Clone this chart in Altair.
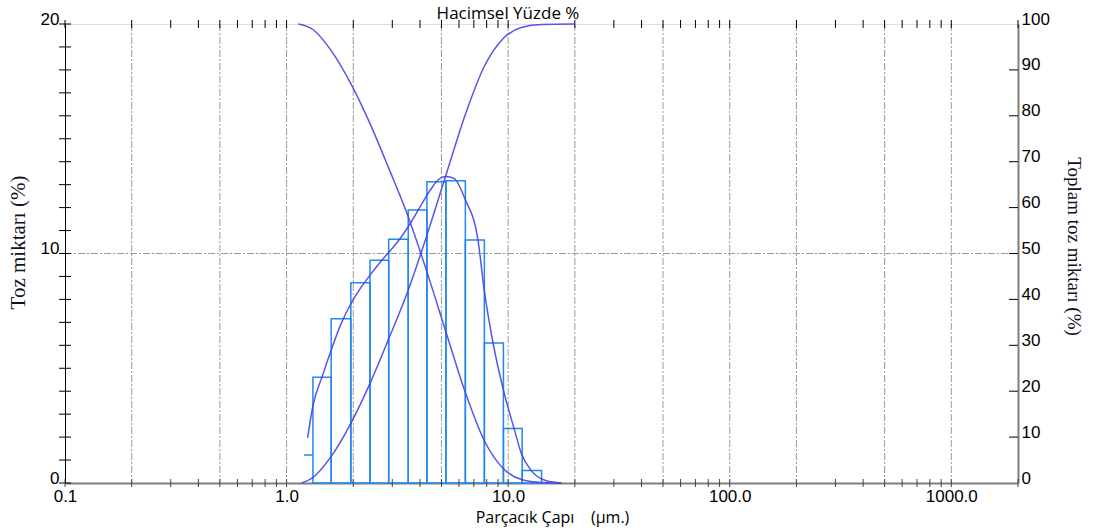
import altair as alt
import pandas as pd

# ---- data ----
# histogram bins (µm) and volume % per bin
bin_lo = [1.315, 1.59, 1.95, 2.38, 2.89, 3.54, 4.30, 5.24, 6.41, 7.81, 9.52, 11.57]
bin_hi = [1.59, 1.95, 2.38, 2.89, 3.54, 4.30, 5.24, 6.41, 7.81, 9.52, 11.57, 14.15]
bin_pct = [4.61, 7.16, 8.73, 9.71, 10.62, 11.90, 13.13, 13.17, 10.59, 6.10, 2.37, 0.54]
# first (partial) bin, drawn as a top segment only
stub_lo = [1.20]
stub_hi = [1.315]
stub_pct = [1.22]

# frequency curve (left axis)
freq_x = [1.245, 1.311, 1.455, 1.598, 1.755, 1.948, 2.161, 2.40, 2.663, 2.955, 3.28, 3.64,
          4.04, 4.48, 4.82, 5.24, 5.70, 6.39, 7.31, 7.79, 8.55, 9.59, 10.64, 11.45, 12.71,
          14.86, 17.37]
freq_y = [1.97, 3.3, 4.7, 5.85, 6.9, 7.8, 8.5, 9.1, 9.65, 10.15, 10.7, 11.35,
          12.1, 12.8, 13.2, 13.36, 13.27, 12.37, 10.58, 8.44, 6.1, 3.93, 2.37, 1.31, 0.54,
          0.1, 0.0]

# cumulative undersize (right axis)
under_x = [1.17, 1.315, 1.59, 1.95, 2.38, 2.89, 3.54, 4.30, 5.24, 6.41, 7.81, 9.52, 11.57, 14.15, 20.0]
under_y = [0, 1.2, 5.8, 13.0, 21.7, 31.4, 42.0, 54.0, 67.1, 80.3, 90.8, 96.9, 99.3, 99.9, 100]

# cumulative oversize (right axis)
over_x = [1.13, 1.315, 1.59, 1.95, 2.38, 2.89, 3.54, 4.30, 5.24, 6.41, 7.81, 9.52, 11.57, 14.15, 17.4]
over_y = [100, 98.8, 94.2, 87.0, 78.3, 68.6, 58.0, 46.0, 32.9, 19.7, 9.2, 3.1, 0.7, 0.1, 0]

# axes
x_labels = [0.1, 1, 10, 100, 1000]
x_grid = [0.2, 0.5, 1, 2, 5, 10, 20, 50, 100, 200, 500, 1000]
x_ticks = [m * 10 ** e for e in range(-1, 3) for m in range(1, 10)] + [1000, 2000]
left_labels = [0, 10, 20]
left_ticks = list(range(0, 21))
right_labels = list(range(0, 101, 10))
right_ticks = list(range(10, 100, 10))
top_title = ["Hacimsel Yüzde %"]

W, H = 953, 459
LABEL_FONT = "Liberation Sans"
SERIF = "Liberation Serif"
SANS_T = "Open Sans"
BAR_C = "#2288ee"
CURVE_C = "#4444e8"
GRID_C = "#9a9a9a"

xs = alt.Scale(type="log", domain=[0.1, 2000], nice=False)
x_axis = alt.Axis(values=x_labels, format=".1f", title="Parçacık Çapı\u00a0\u00a0\u00a0\u00a0(µm.)",
                  grid=False, ticks=False, domainColor="#7f7f7f", domainWidth=2,
                  labelPadding=5, labelFlush=False, labelFont=LABEL_FONT, labelFontSize=17,
                  labelColor="black", labelOverlap=False, titleFont=SANS_T, titleFontSize=16,
                  titleFontWeight="normal", titleColor="black", titleX=487, titleY=34,
                  titleBaseline="middle", titleAlign="center")
X = alt.X("x:Q", scale=xs, axis=x_axis)

yl_scale = alt.Scale(domain=[0, 20], nice=False, zero=True)
yl_axis = alt.Axis(values=left_labels, title="Toz miktarı (%)", grid=False, ticks=False,
                   domainColor="black", domainWidth=1, labelPadding=6, labelBaseline="alphabetic",
                   labelFont=LABEL_FONT, labelFontSize=17, labelColor="black",
                   titleFont=SERIF, titleFontSize=21, titleFontWeight="normal", titleColor="#111122",
                   titleAngle=270, titleX=-47, titleY=218, titleBaseline="middle", titleAlign="center")
YL = alt.Y("v:Q", scale=yl_scale, axis=yl_axis)

yr_scale = alt.Scale(domain=[0, 100], nice=False, zero=True)
yr_axis = alt.Axis(orient="right", values=right_labels, title="Toplam toz miktarı (%)", grid=False,
                   ticks=False, domainColor="#7f7f7f", domainWidth=2, labelPadding=3,
                   labelBaseline="alphabetic", labelFont=LABEL_FONT, labelFontSize=17,
                   labelColor="black", titleFont=SERIF, titleFontSize=19, titleFontWeight="normal",
                   titleColor="#111122", titleAngle=90, titleX=55, titleY=222,
                   titleBaseline="middle", titleAlign="center")
YR = alt.Y("c:Q", scale=yr_scale, axis=yr_axis)

# ---- data frames ----
df_bins = pd.DataFrame({"x": bin_lo, "x2": bin_hi, "v": bin_pct})
df_stub = pd.DataFrame({"x": stub_lo, "x2": stub_hi, "v": stub_pct})
df_freq = pd.DataFrame({"x": freq_x, "v": freq_y})
df_under = pd.DataFrame({"x": under_x, "c": under_y})
df_over = pd.DataFrame({"x": over_x, "c": over_y})
df_xgrid = pd.DataFrame({"x": x_grid})
df_xticks = pd.DataFrame({"x": x_ticks})
df_hgrid = pd.DataFrame({"v": [10]})
df_lticks = pd.DataFrame({"v": left_ticks})
df_rticks = pd.DataFrame({"c": right_ticks})
df_title = pd.DataFrame({"t": top_title})

vgrid = alt.Chart(df_xgrid).mark_rule(color=GRID_C, strokeWidth=1, strokeDash=[7, 2, 2, 2]).encode(
    x=X, y=alt.value(0), y2=alt.value(H))
hgrid = alt.Chart(df_hgrid).mark_rule(color=GRID_C, strokeWidth=1, strokeDash=[7, 2, 2, 2]).encode(
    y=YL, x=alt.value(0), x2=alt.value(W))
top_ticks = alt.Chart(df_xticks).mark_rule(color="black", strokeWidth=1).encode(
    x=X, y=alt.value(-4), y2=alt.value(4))
bot_ticks = alt.Chart(df_xticks).mark_rule(color="#444444", strokeWidth=1).encode(
    x=X, y=alt.value(H - 4), y2=alt.value(H + 4))
lticks = alt.Chart(df_lticks).mark_rule(color="black", strokeWidth=1).encode(
    y=YL, x=alt.value(-6), x2=alt.value(6))
title_txt = alt.Chart(df_title).mark_text(font=SANS_T, fontSize=17, color="black",
                                          align="center", baseline="alphabetic").encode(
    text="t:N", x=alt.value(443), y=alt.value(-5))

bars = alt.Chart(df_bins).mark_rect(fillOpacity=0, stroke=BAR_C, strokeWidth=1.5).encode(
    x=X, x2=alt.X2("x2:Q"), y=YL, y2=alt.datum(0))
stub = alt.Chart(df_stub).mark_rule(color=BAR_C, strokeWidth=1.5).encode(
    x=X, x2=alt.X2("x2:Q"), y=YL)
freq = alt.Chart(df_freq).mark_line(interpolate="monotone", color=CURVE_C, strokeWidth=1.5,
                                     opacity=0.9).encode(x=X, y=YL)

left = alt.layer(vgrid, hgrid, bars, stub, freq, lticks, top_ticks, bot_ticks, title_txt)

under = alt.Chart(df_under).mark_line(interpolate="monotone", color=CURVE_C, strokeWidth=1.5,
                                       opacity=0.9).encode(x=X, y=YR)
over = alt.Chart(df_over).mark_line(interpolate="monotone", color=CURVE_C, strokeWidth=1.5,
                                     opacity=0.9).encode(x=X, y=YR)
rticks = alt.Chart(df_rticks).mark_rule(color="black", strokeWidth=1).encode(
    y=YR, x=alt.value(W - 9), x2=alt.value(W))

right = alt.layer(under, over, rticks)

chart = alt.layer(left, right).resolve_scale(y="independent").properties(
    width=W, height=H,
    padding={"left": 65, "top": 24, "right": 75, "bottom": 48},
    autosize=alt.AutoSizeParams(type="none"),
).configure_view(stroke="black", strokeWidth=1).configure(background="white")

chart.save("out.html", embed_options={"renderer": "svg", "actions": False})
